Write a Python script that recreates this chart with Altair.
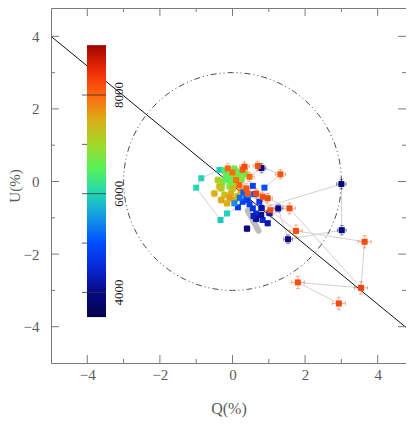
import altair as alt
import pandas as pd

# ---------------- data ----------------
# polarisation points: Q(%), U(%), errors, wavelength (Angstrom)
pt_q = [-0.36, -0.86, -1.00, -0.33, -0.15, -0.10,
        -0.17, -0.04, 0.01, -0.27, 0.15, -0.08, -0.14, 0.05, -0.22, 0.10, -0.30, 0.20,
        0.25, 0.35, 0.05, -0.05,
        -0.36, -0.50, -0.22, -0.04, -0.31, 0.01, -0.40, -0.31, 0.06, -0.08, 0.24, -0.15, 0.15,
        0.15, 0.28, 0.38, 0.42, 0.56, 0.65, 0.83, 0.74, 0.56, 0.88, 0.47, 0.30, 0.60, 0.20, 0.43, 0.05,
        0.40, 0.65, 0.79, 0.80, 1.02, 0.97, 0.58, 1.26, 1.53, 3.01, 3.00, 0.80,
        -0.13, 0.28, 0.10, 0.19, 0.38, 0.70, 0.33, 0.47, 0.65, 0.42, 0.97, 0.83, 0.00,
        1.32, 1.04, 1.57, 1.75, 3.64, 3.54, 1.80, 2.93]
pt_u = [0.32, 0.09, -0.17, -1.06, -0.88, 0.05,
        0.18, 0.23, 0.00, 0.00, 0.13, -0.14, 0.10, 0.35, 0.30, -0.05, -0.10, 0.25,
        0.05, 0.20, 0.15, -0.02,
        -0.14, -0.33, -0.37, -0.33, -0.19, -0.19, 0.04, -0.51, -0.51, -0.45, -0.28, -0.60, -0.40,
        -0.71, -0.56, -0.42, -0.51, -0.74, -0.88, -1.06, -0.56, -0.12, -0.17, -0.63, -0.30, -0.35, -0.45, -0.37, -0.60,
        -1.30, -1.03, -0.92, -0.73, -0.87, -1.15, -0.95, -0.74, -1.59, -1.34, -0.07, 0.37,
        0.36, 0.32, 0.04, -0.10, -0.19, 0.43, 0.41, 0.13, -0.33, -0.33, -0.46, -0.42, 0.25,
        0.20, -0.79, -0.74, -1.36, -1.66, -2.93, -2.78, -3.36]
pt_eq = [0.03] * 6 + [0.09] * 16 + [0.09] * 13 + [0.04] * 16 + \
        [0.08, 0.08, 0.07, 0.08, 0.08, 0.07, 0.06, 0.12, 0.12, 0.12, 0.13, 0.12] + \
        [0.13] * 13 + [0.14, 0.15, 0.16, 0.17, 0.18, 0.18, 0.18, 0.18]
pt_eu = [0.03] * 6 + [0.09] * 16 + [0.09] * 13 + [0.04] * 16 + \
        [0.08, 0.08, 0.07, 0.08, 0.08, 0.07, 0.06, 0.10, 0.12, 0.13, 0.13, 0.13] + \
        [0.13] * 13 + [0.13, 0.14, 0.15, 0.16, 0.17, 0.17, 0.17, 0.17]
pt_wl = [5900, 5950, 6000, 5900, 5950, 6100,
         6700, 6800, 6900, 6600, 6750, 6850, 6500, 6650, 6400, 7000, 6950, 6550,
         6800, 6700, 6900, 6600,
         7400, 7500, 7300, 7450, 7200, 7350, 7100, 7550, 7600, 7650, 7700, 7500, 7250,
         4700, 4800, 4900, 4750, 4600, 4550, 4500, 4650, 4850, 5000, 4700, 5100, 4950, 5200, 5300, 5450,
         4000, 4050, 4100, 4150, 4200, 4250, 4300, 4000, 3950, 3900, 3850, 3900,
         8000, 8100, 7900, 8050, 8150, 8200, 8250, 8000, 8300, 8100, 8250, 8200, 7950,
         8150, 8200, 8250, 8200, 8250, 8300, 8200, 8250]

# light-grey connecting tracks
trk_id = [1] * 7 + [2] * 6 + [3] * 7 + [4] * 3 + [5] * 3 + [6] * 2
trk_q = [0.10, -0.36, -0.86, -1.00, -0.33, -0.15, 0.15,
         0.80, 3.00, 3.01, 1.53, 1.26, 0.97,
         0.83, 1.04, 1.75, 3.64, 3.54, 1.80, 2.93,
         0.70, 1.32, 0.88,
         0.97, 1.57, 3.54,
         0.80, 0.47]
trk_u = [-0.10, 0.32, 0.09, -0.17, -1.06, -0.88, -0.71,
         -0.73, -0.07, -1.34, -1.59, -0.74, -1.15,
         -0.42, -0.79, -1.36, -1.66, -2.93, -2.78, -3.36,
         0.43, 0.20, -0.17,
         -0.46, -0.74, -2.93,
         0.37, 0.13]

# thick grey segment
seg_q = [0.42, 0.72]
seg_u = [-0.80, -1.36]

# dominant axis line
ln_q = [-5.0, 5.0]
ln_u = [4.0, -4.2]

# circle radius (%)
circ_r = 3.0

# axis ticks
maj_ticks = [-4, -2, 0, 2, 4]
min_ticks = [-3, -1, 1, 3]

# colour bar
cb_stops = [3500, 4000, 4500, 5000, 5500, 6000, 6500, 7000, 7500, 8000, 8500, 9000]
cb_colors = ['#06064a', '#0a0a86', '#0a2ad8', '#0050ff', '#1496e6', '#22d8b4',
             '#58f25a', '#a2d82a', '#dcae18', '#ff6612', '#ee2c06', '#a00800']
cb_major = [4000, 6000, 8000]
cb_minor = [5000, 7000]

# ---------------- chart ----------------
W, H = 355, 355
FONT = 'Liberation Serif'
GREY = '#5a5a5a'

pts = pd.DataFrame({'q': pt_q, 'u': pt_u, 'dq': pt_eq, 'du': pt_eu, 'wl': pt_wl})
pts['q_lo'] = pts['q'] - pts['dq']
pts['q_hi'] = pts['q'] + pts['dq']
pts['u_lo'] = pts['u'] - pts['du']
pts['u_hi'] = pts['u'] + pts['du']

trk = pd.DataFrame({'id': trk_id, 'q': trk_q, 'u': trk_u})
trk['k'] = range(len(trk))
seg = pd.DataFrame({'q': seg_q, 'u': seg_u})
ln = pd.DataFrame({'q': ln_q, 'u': ln_u})
maj = pd.DataFrame({'v': maj_ticks})
mnr = pd.DataFrame({'v': min_ticks})

xs = alt.Scale(domain=[-5, 4.78], nice=False, zero=False)
ys = alt.Scale(domain=[-5, 4.78], nice=False, zero=False)
cs = alt.Scale(domain=cb_stops, range=cb_colors, interpolate='rgb')

xaxis = alt.Axis(values=maj_ticks, ticks=False, domain=False, grid=False,
                 labelFont=FONT, labelFontSize=15, labelColor=GREY, labelPadding=4,
                 title='Q(%)', titleFont=FONT, titleFontSize=16, titleFontWeight='normal',
                 titleColor=GREY, titlePadding=18)
yaxis = alt.Axis(values=maj_ticks, ticks=False, domain=False, grid=False,
                 labelFont=FONT, labelFontSize=15, labelColor=GREY, labelPadding=12,
                 title='U(%)', titleFont=FONT, titleFontSize=15, titleFontWeight='normal',
                 titleColor=GREY, titlePadding=1)

X = lambda f: alt.X(f, type='quantitative', scale=xs, axis=xaxis)
Y = lambda f: alt.Y(f, type='quantitative', scale=ys, axis=yaxis)

tracks = alt.Chart(trk).mark_line(color='#d2d2d2', strokeWidth=1).encode(
    x=X('q'), y=Y('u'), detail='id:N', order='k:Q')

circle = alt.Chart(alt.sequence(0, 362, 2, as_='deg')).transform_calculate(
    q=f'{circ_r} * cos(datum.deg * PI / 180)',
    u=f'{circ_r} * sin(datum.deg * PI / 180)'
).mark_line(color='#333333', strokeWidth=0.9, strokeDash=[6, 3, 1, 3, 1, 3]).encode(
    x=X('q'), y=Y('u'), order='deg:Q')

segment = alt.Chart(seg).mark_line(color='#bdbdbd', strokeWidth=6, strokeCap='round').encode(
    x=X('q'), y=Y('u'))

axline = alt.Chart(ln).mark_line(color='#111111', strokeWidth=1, clip=True).encode(
    x=X('q'), y=Y('u'))

col = alt.Color('wl:Q', scale=cs, legend=None)
base = alt.Chart(pts)
ebx = base.mark_rule(strokeWidth=1, opacity=0.45).encode(
    x=X('q_lo'), x2='q_hi:Q', y=Y('u'), color=col)
eby = base.mark_rule(strokeWidth=1, opacity=0.45).encode(
    x=X('q'), y=Y('u_lo'), y2='u_hi:Q', color=col)
cap1 = base.mark_tick(orient='vertical', size=4, thickness=1, opacity=0.45).encode(
    x=X('q_lo'), y=Y('u'), color=col)
cap2 = base.mark_tick(orient='vertical', size=4, thickness=1, opacity=0.45).encode(
    x=X('q_hi'), y=Y('u'), color=col)
cap3 = base.mark_tick(orient='horizontal', size=4, thickness=1, opacity=0.45).encode(
    x=X('q'), y=Y('u_lo'), color=col)
cap4 = base.mark_tick(orient='horizontal', size=4, thickness=1, opacity=0.45).encode(
    x=X('q'), y=Y('u_hi'), color=col)
points = base.mark_square(size=36, opacity=1, filled=True).encode(
    x=X('q'), y=Y('u'), color=col)

TC = '#7a7a7a'
def xticks(df, L):
    b = alt.Chart(df).mark_rule(color=TC, strokeWidth=1)
    return [b.encode(x=X('v'), y=alt.value(H), y2=alt.value(H - L)),
            b.encode(x=X('v'), y=alt.value(0), y2=alt.value(L))]
def yticks(df, L):
    b = alt.Chart(df).mark_rule(color=TC, strokeWidth=1)
    return [b.encode(y=Y('v'), x=alt.value(0), x2=alt.value(L)),
            b.encode(y=Y('v'), x=alt.value(W), x2=alt.value(W - L))]

ticks = xticks(maj, 8) + xticks(mnr, 4) + yticks(maj, 8) + yticks(mnr, 4)

main = alt.layer(tracks, circle, axline, segment, ebx, eby, cap1, cap2, cap3, cap4,
                 points, *ticks)

# colour bar (its own vertical scale, values in Angstrom)
cbs = alt.Scale(domain=[2570, 9763], nice=False, zero=False)
cb_rect = alt.Chart(alt.sequence(cb_stops[0], cb_stops[-1], 10, as_='w')).transform_calculate(
    w2=f'min(datum.w + 50, {cb_stops[-1]})').mark_rect(strokeWidth=0, opacity=1).encode(
    x=alt.value(36), x2=alt.value(55),
    y=alt.Y('w:Q', scale=cbs, axis=None), y2='w2:Q',
    color=alt.Color('w:Q', scale=cs, legend=None))
cbmaj = pd.DataFrame({'w': cb_major})
cbmin = pd.DataFrame({'w': cb_minor})
cb_t1 = alt.Chart(cbmaj).mark_rule(color='#333333', strokeWidth=1, opacity=0.8).encode(
    x=alt.value(31), x2=alt.value(55), y=alt.Y('w:Q', scale=cbs, axis=None))
cb_t2 = alt.Chart(cbmin).mark_rule(color='#333333', strokeWidth=1, opacity=0.8).encode(
    x=alt.value(31), x2=alt.value(36), y=alt.Y('w:Q', scale=cbs, axis=None))
cb_lab = alt.Chart(cbmaj).mark_text(angle=270, font=FONT, fontSize=13, color='#222222',
                                    align='center', baseline='middle').encode(
    x=alt.value(68), y=alt.Y('w:Q', scale=cbs, axis=None), text=alt.Text('w:Q', format='d'))
cbar = alt.layer(cb_rect, cb_t1, cb_t2, cb_lab)

chart = alt.layer(main, cbar).resolve_scale(y='independent').properties(
    width=W, height=H,
    autosize=alt.AutoSizeParams(type='none'),
    padding={'left': 43, 'top': 0, 'right': 0, 'bottom': 58},
).configure_view(stroke='#7a7a7a', strokeWidth=1)

chart.save('out.html', embed_options={'renderer': 'svg', 'actions': False})
